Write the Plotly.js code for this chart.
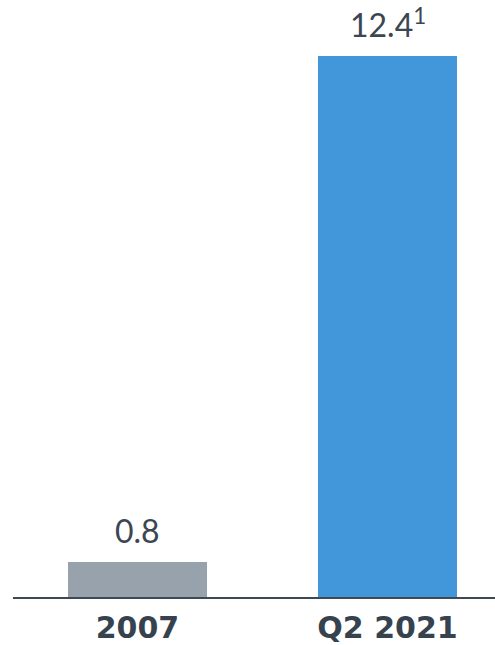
<!DOCTYPE html>
<html>
<head>
<meta charset="utf-8">
<script src="https://cdn.plot.ly/plotly-3.0.1.min.js"></script>
<style>html,body{margin:0;padding:0;background:#fff;}#chart{width:495px;height:645px;}</style>
</head>
<body>
<div id="chart"></div>
<script>
const categories = ["2007", "Q2 2021"];
const values = [0.8, 12.4];
const valueLabels = ["0.8", "12.4<sup>1</sup>"];
const barColors = ["#98a2ac", "#4296da"];

const trace = {
  type: "bar",
  x: categories,
  y: values,
  width: 0.556,
  marker: {color: barColors},
  hoverinfo: "skip"
};

const annotations = categories.map((c, i) => ({
  x: i, y: values[i], xref: "x", yref: "y",
  text: valueLabels[i], showarrow: false,
  yanchor: "bottom", yshift: 10,
  font: {family: "Lato, 'Open Sans', sans-serif", size: 32, color: "#3b4652"}
}));

const layout = {
  width: 495, height: 645,
  margin: {l: 13, r: 0, t: 0, b: 48, pad: 0},
  paper_bgcolor: "#fff", plot_bgcolor: "#fff",
  showlegend: false,
  bargap: 0,
  xaxis: {
    type: "category",
    range: [-0.498, 1.43],
    showline: true, linecolor: "#3d4a55", linewidth: 2,
    ticks: "", showgrid: false, zeroline: false,
    ticklabelstandoff: 3,
    tickfont: {family: "'DejaVu Sans', sans-serif", size: 30, color: "#36434f", weight: "bold"}
  },
  yaxis: {
    range: [0, 13.69],
    showticklabels: false, showgrid: false, zeroline: false, ticks: "", showline: false
  },
  annotations: annotations
};

Plotly.newPlot("chart", [trace], layout, {staticPlot: true, displayModeBar: false});
</script>
</body>
</html>
